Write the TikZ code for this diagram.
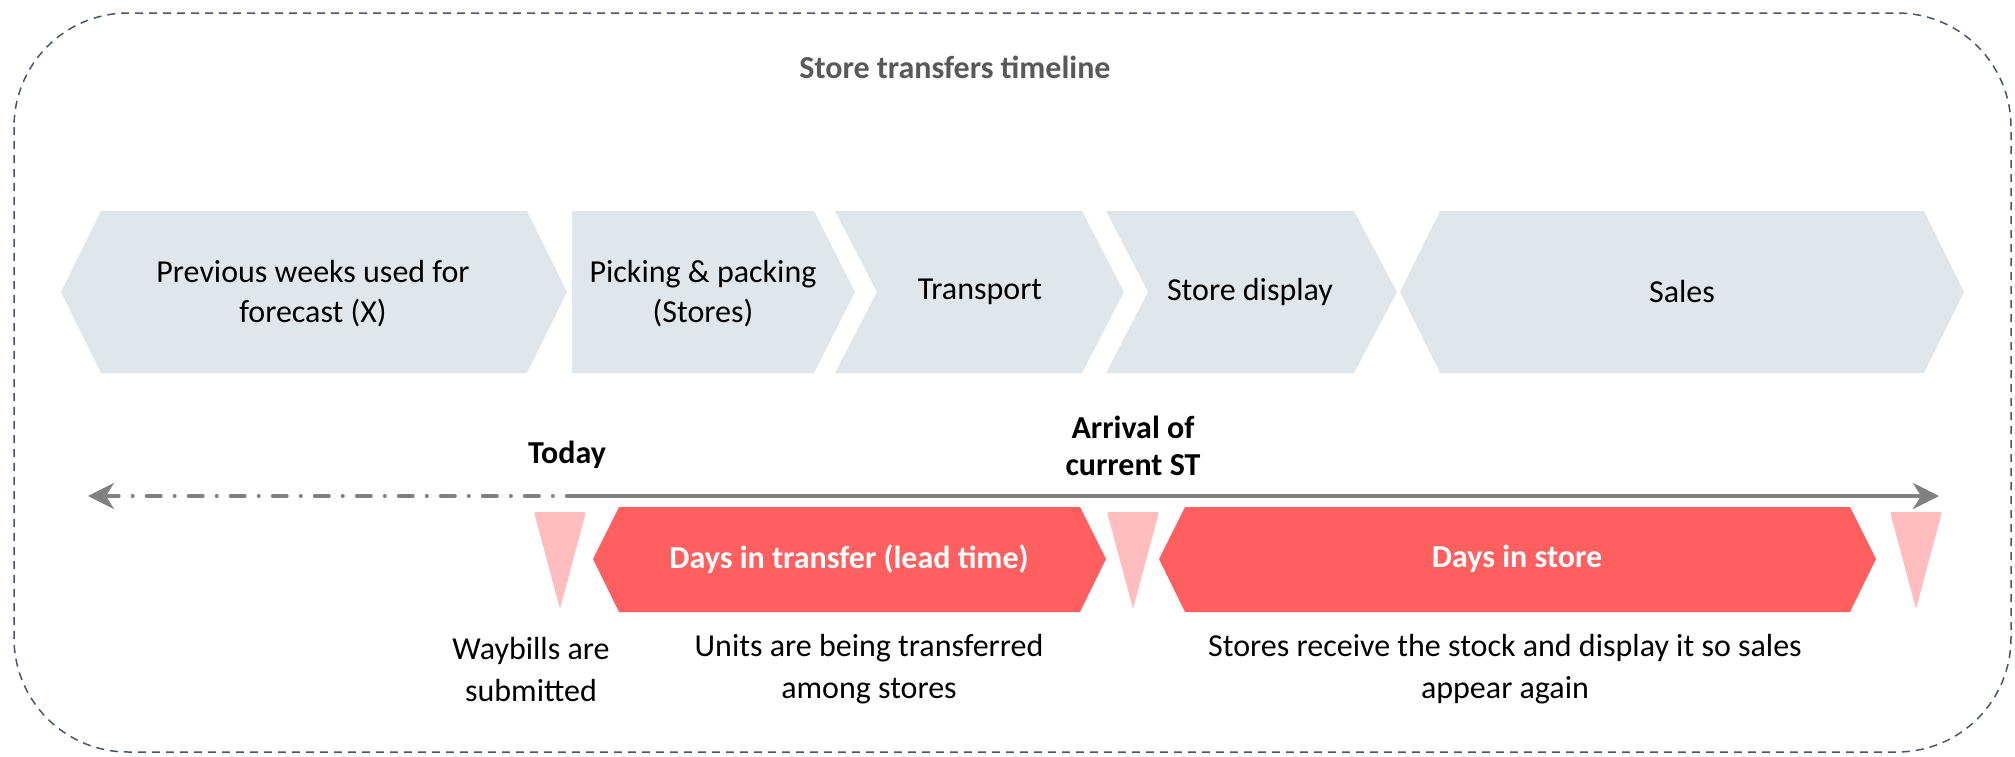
\documentclass[tikz,border=0pt]{standalone}
\usepackage{fontspec}
\setmainfont{Carlito}
\usetikzlibrary{arrows.meta}

\definecolor{stagegray}{HTML}{E1E6EB}
\definecolor{spanred}{HTML}{FF5F5F}
\definecolor{markpink}{HTML}{FFBDBD}
\definecolor{axisgray}{HTML}{808080}
\definecolor{framegray}{HTML}{4A5568}
\definecolor{titlegray}{HTML}{595959}

\begin{document}
\begin{tikzpicture}[x=0.5pt,y=-0.5pt,
  stage/.style={fill=stagegray},
  span/.style={fill=spanred},
  marker/.style={fill=markpink, rounded corners=1pt},
  steptext/.style={font=\fontsize{16}{20}\selectfont, align=center, inner sep=0pt},
  spantext/.style={font=\fontsize{16}{20}\selectfont\bfseries, text=white, inner sep=0pt},
  eventtext/.style={font=\fontsize{16}{18.5}\selectfont\bfseries, align=center, inner sep=0pt},
  notetext/.style={font=\fontsize{16}{21}\selectfont, align=center, inner sep=0pt},
  axis/.style={draw=axisgray, line width=2pt}]
\useasboundingbox (0,0) rectangle (2015,756);
\draw [framegray, line width=0.75pt, dash pattern=on 4pt off 3pt, rounded corners=57pt] (14,13) rectangle (2011,752);
\node [font=\fontsize{16}{20}\selectfont\bfseries, text=titlegray, inner sep=0pt] (title) at (955,67) {Store transfers timeline};

% stages
\fill [stage] (61,292) -- (101,211) -- (527,211) -- (567,292) -- (527,373) -- (101,373) -- cycle;
\node [steptext] (forecast) at (313,294) {Previous weeks used for\\forecast (X)};
\fill [stage] (572,211) -- (814,211) -- (855,292) -- (814,373) -- (572,373) -- cycle;
\node [steptext] (picking) at (703,294) {Picking \& packing\\(Stores)};
\fill [stage] (835,211) -- (1082,211) -- (1124,292) -- (1082,373) -- (835,373) -- (877,292) -- cycle;
\node [steptext] (transport) at (980,292) {Transport};
\fill [stage] (1106,211) -- (1354,211) -- (1397,292) -- (1354,373) -- (1106,373) -- (1148,292) -- cycle;
\node [steptext] (display) at (1250,292) {Store display};
\fill [stage] (1400,292) -- (1440,211) -- (1924,211) -- (1964,292) -- (1924,373) -- (1440,373) -- cycle;
\node [steptext] (sales) at (1682,292) {Sales};

% time axis
\coordinate (past) at (88,496);
\coordinate (today) at (570,496);
\coordinate (future) at (1939,496);
\draw [axis, line cap=round, dash pattern=on 7pt off 7pt on 0.01pt off 7pt, {Stealth[length=13pt,width=13pt,inset=4pt]}-] (past) -- (today);
\draw [axis, -{Stealth[length=13pt,width=13pt,inset=4pt]}] (today) -- (future);
\node [eventtext] (todaylabel) at (567,455) {Today};
\node [eventtext] (arrival) at (1133,446) {Arrival of\\current ST};

% markers and spans
\fill [marker] (534,512) -- (586,512) -- (560,609) -- cycle;
\fill [marker] (1107,512) -- (1159,512) -- (1133,609) -- cycle;
\fill [marker] (1890,512) -- (1942,512) -- (1916,609) -- cycle;
\fill [span] (593,559) -- (619,507) -- (1080,507) -- (1106,559) -- (1080,612) -- (619,612) -- cycle;
\node [spantext] (transfer) at (849,559) {Days in transfer (lead time)};
\fill [span] (1159,559) -- (1185,507) -- (1850,507) -- (1876,559) -- (1850,612) -- (1185,612) -- cycle;
\node [spantext] (instore) at (1517,559) {Days in store};

\node [notetext] (waybills) at (531,669) {Waybills are\\submitted};
\node [notetext] (units) at (869,669) {Units are being transferred\\among stores};
\node [notetext] (receive) at (1505,669) {Stores receive the stock and display it so sales\\appear again};
\end{tikzpicture}
\end{document}
